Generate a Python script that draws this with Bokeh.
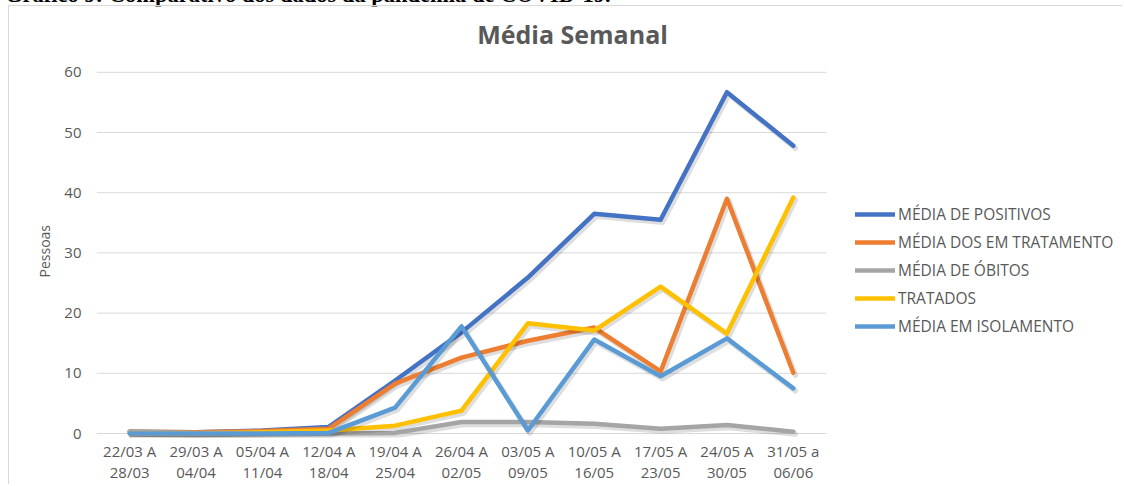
from bokeh.plotting import figure
from bokeh.models import (Range1d, Legend, LegendItem, Title, ColumnDataSource, Label,
                          FixedTicker, LinearAxis, Div)
from bokeh.layouts import column
from bokeh.transform import dodge
from bokeh.embed import file_html
from bokeh.resources import INLINE

caption = "Gráfico 9: Comparativo dos dados da pandemia de COVID-19."
week_start = ["22/03 A", "29/03 A", "05/04 A", "12/04 A", "19/04 A", "26/04 A",
              "03/05 A", "10/05 A", "17/05 A", "24/05 A", "31/05 a"]
week_end = ["28/03", "04/04", "11/04", "18/04", "25/04", "02/05",
            "09/05", "16/05", "23/05", "30/05", "06/06"]
positivos = [0.3, 0.2, 0.5, 1.1, 8.8, 16.8, 25.9, 36.5, 35.5, 56.7, 47.8]
tratamento = [0.3, 0.2, 0.4, 0.8, 8.3, 12.6, 15.4, 17.6, 10.3, 39.0, 10.1]
obitos = [0.3, 0.1, 0.1, 0.0, 0.1, 1.9, 1.9, 1.6, 0.8, 1.4, 0.3]
tratados = [0.0, 0.0, 0.2, 0.5, 1.3, 3.8, 18.3, 17.1, 24.4, 16.6, 39.2]
isolamento = [0.0, 0.0, 0.0, 0.1, 4.3, 17.8, 0.5, 15.6, 9.5, 15.8, 7.5]
y_ticks = [0, 10, 20, 30, 40, 50, 60]

series_names = ["MÉDIA DE POSITIVOS", "MÉDIA DOS EM TRATAMENTO", "MÉDIA DE ÓBITOS",
                "TRATADOS", "MÉDIA EM ISOLAMENTO"]
series_values = [positivos, tratamento, obitos, tratados, isolamento]
colors = ["#4472C4", "#ED7D31", "#A5A5A5", "#FFC000", "#5B9BD5"]

FONT = "Open Sans"
TXT = "#595959"

W, H = 1114, 479
LEFT, BOTTOM = 87, 48
n = len(week_start)
px_per_cat = 730 / n          # category band width in pixels
px_per_unit = 6.02            # vertical pixels per person
frame_w = W - LEFT
frame_h = H - BOTTOM
x0 = -0.5
y0 = -4 / px_per_unit
x_range = Range1d(x0, x0 + frame_w / px_per_cat)
y_range = Range1d(y0, y0 + frame_h / px_per_unit)

def fx(px):  # frame-relative pixel -> data x
    return x0 + px / px_per_cat

def fy(py):  # pixels above frame bottom -> data y
    return y0 + py / px_per_unit

p = figure(x_range=x_range, y_range=y_range, width=W, height=H,
           output_backend="svg", toolbar_location=None,
           min_border_left=LEFT, min_border_right=0, min_border_top=0,
           min_border_bottom=BOTTOM)
p.outline_line_color = None
p.background_fill_color = "white"
p.border_fill_color = "white"
p.styles = {"margin-left": "8px", "margin-top": "0px",
            "border-left": "1px solid #d9d9d9", "border-top": "1px solid #d9d9d9"}
p.grid.visible = False

# horizontal gridlines over the category area only
p.segment(x0=[x0] * len(y_ticks), x1=[x0 + n] * len(y_ticks), y0=y_ticks, y1=y_ticks,
          line_color="#D9D9D9", line_width=1)

# y axis
p.yaxis.ticker = FixedTicker(ticks=y_ticks)
p.yaxis.axis_line_color = None
p.yaxis.major_tick_line_color = None
p.yaxis.minor_tick_line_color = None
p.yaxis.major_tick_out = 0
p.yaxis.major_tick_in = 0
p.yaxis.major_label_text_font = FONT
p.yaxis.major_label_text_font_size = "15px"
p.yaxis.major_label_text_color = TXT
p.yaxis.major_label_standoff = 15

# x axes: two lines of category labels
xticks = list(range(n))
p.xaxis.ticker = FixedTicker(ticks=xticks)
p.xaxis.major_label_overrides = {i: s for i, s in enumerate(week_start)}
ax2 = LinearAxis(ticker=FixedTicker(ticks=xticks),
                 major_label_overrides={i: s for i, s in enumerate(week_end)})
p.add_layout(ax2, "below")
for ax, so in ((p.xaxis[0], 3), (ax2, -2)):
    ax.axis_line_color = None
    ax.major_tick_line_color = None
    ax.minor_tick_line_color = None
    ax.major_tick_out = 0
    ax.major_tick_in = 0
    ax.major_label_text_font = FONT
    ax.major_label_text_font_size = "15px"
    ax.major_label_text_color = TXT
    ax.major_label_standoff = so

# lines with soft shadow
renderers = []
for name, vals, c in zip(series_names, series_values, colors):
    src = ColumnDataSource(dict(x=list(range(n)), y=vals))
    p.line(x=dodge("x", 0.03), y=dodge("y", -0.4), source=src, line_color="black",
           line_alpha=0.13, line_width=5.5, line_join="round", line_cap="round")
    r = p.line("x", "y", source=src, line_color=c, line_width=4.5,
               line_join="round", line_cap="round")
    renderers.append((name, r))

legend = Legend(items=[LegendItem(label=nm, renderers=[r]) for nm, r in renderers],
                location=(759, 100), orientation="vertical",
                glyph_width=40, glyph_height=20, label_height=20, spacing=6,
                label_standoff=3, padding=0, margin=0,
                label_text_font=FONT, label_text_font_size="15.5px", label_text_color=TXT,
                border_line_color=None, background_fill_alpha=0)
p.add_layout(legend, "center")

p.add_layout(Label(x=fx(476), y=fy(404), text="Média Semanal", text_align="center",
                   text_baseline="alphabetic", text_font=FONT, text_font_size="25px",
                   text_font_style="bold", text_color=TXT))

p.add_layout(Title(text="Pessoas", align="left", offset=160, standoff=15,
                   text_font=FONT, text_font_size="14px", text_font_style="normal",
                   text_color=TXT), "left")

cap = Div(text=caption, width=700, height=21,
          styles={"margin-top": "-21px", "font-family": "Liberation Serif",
                  "font-size": "22.5px", "font-weight": "bold", "color": "black",
                  "white-space": "nowrap"})

layout = column(cap, p, spacing=0)
open("out.html", "w").write(file_html(layout, INLINE))
